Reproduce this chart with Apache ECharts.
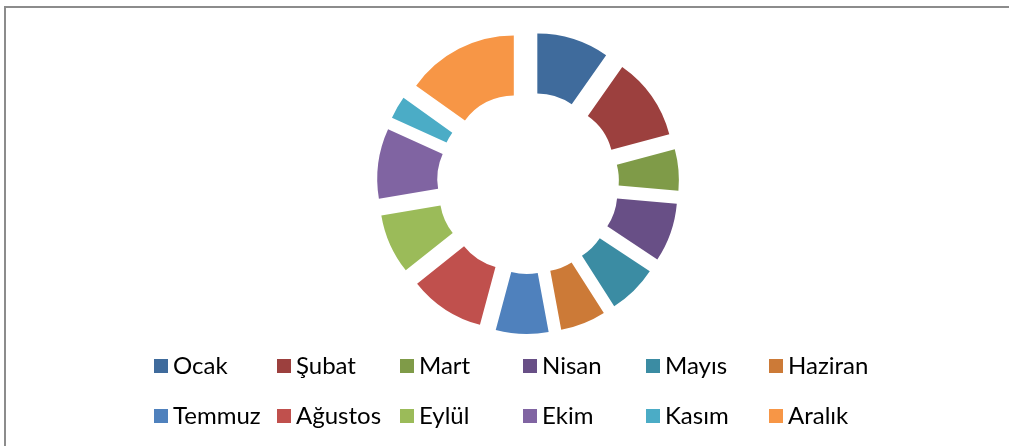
<!DOCTYPE html>
<html>
<head>
<meta charset="utf-8">
<script src="https://cdn.jsdelivr.net/npm/echarts@6/dist/echarts.min.js"></script>
<style>
html,body{margin:0;padding:0;background:#fff;}
#c{width:1009px;height:446px;}
</style>
</head>
<body>
<div id="c"></div>
<script>
const categories = ['Ocak','Şubat','Mart','Nisan','Mayıs','Haziran','Temmuz','Ağustos','Eylül','Ekim','Kasım','Aralık'];
const values = [35, 40, 20, 28.5, 24, 22, 25.5, 36.5, 29, 34, 11, 54.5];
const colors = ['#3F6B9C','#9C403E','#7F9B48','#684F86','#3B8CA3','#CC7A37','#4F81BD','#C0504D','#9BBB59','#8064A2','#4BACC6','#F79646'];

const chart = echarts.init(document.getElementById('c'), null, {renderer:'canvas'});
chart.setOption({
  animation: false,
  color: colors,
  graphic: [{
    type: 'rect',
    shape: {x: 5, y: 7, width: 1100, height: 600},
    style: {fill: 'none', stroke: '#8c8c8c', lineWidth: 2},
    silent: true
  }],
  legend: {
    data: categories,
    left: 154,
    top: 346,
    width: 745,
    padding: 0,
    orient: 'horizontal',
    icon: 'rect',
    itemWidth: 14,
    itemHeight: 14,
    itemGap: 10,
    selectedMode: false,
    textStyle: {
      fontFamily: 'Lato',
      fontSize: 24,
      color: '#000',
      width: 94,
      lineHeight: 40
    }
  },
  series: [{
    type: 'pie',
    center: [528, 183],
    radius: [60, 120],
    startAngle: 90,
    clockwise: true,
    selectedMode: 'multiple',
    selectedOffset: 31,
    label: {show: false},
    labelLine: {show: false},
    emphasis: {disabled: true},
    itemStyle: {borderWidth: 0},
    data: categories.map((n, i) => ({name: n, value: values[i], selected: true}))
  }]
});
</script>
</body>
</html>
